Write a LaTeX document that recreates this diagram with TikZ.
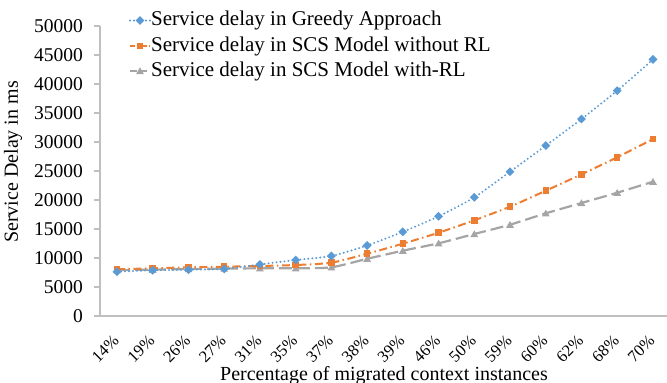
\documentclass[tikz,border=0pt]{standalone}
\usepackage{fontspec}
\setmainfont{Liberation Serif}
\usetikzlibrary{shapes.geometric}
\definecolor{sblue}{HTML}{5B9BD5}
\definecolor{sorange}{HTML}{ED7D31}
\definecolor{sgray}{HTML}{A5A5A5}
\definecolor{axisgray}{HTML}{BFBFBF}
\tikzset{
  axisline/.style={draw=axisgray, line width=1.4pt},
  ticklab/.style={font=\fontsize{19.5}{20}\selectfont, anchor=east, inner sep=0pt},
  xlab/.style={font=\fontsize{16.5}{17}\selectfont, anchor=north east, rotate=45, inner sep=0pt},
  titlelab/.style={font=\fontsize{20}{22}\selectfont, inner sep=0pt},
  leglab/.style={font=\fontsize{21}{23}\selectfont, anchor=west, inner sep=0pt},
  blueline/.style={draw=sblue, line width=2.2pt, line cap=round, dash pattern=on 0pt off 4pt},
  orangeline/.style={draw=sorange, line width=2pt, dash pattern=on 8pt off 3.5pt on 1.5pt off 3.5pt},
  grayline/.style={draw=sgray, line width=2.2pt, dash pattern=on 13pt off 5pt},
  bluemark/.style={diamond, fill=sblue, minimum width=9pt, minimum height=9pt, inner sep=0pt},
  orangemark/.style={rectangle, fill=sorange, minimum size=6.5pt, inner sep=0pt},
  graymark/.style={regular polygon, regular polygon sides=3, fill=sgray, minimum size=9pt, inner sep=0pt},
}
\begin{document}
\begin{tikzpicture}[x=1pt, y=-1pt]
\useasboundingbox (0,0) rectangle (667,383);
% axes
\coordinate (ytop) at (100,26);
\coordinate (origin) at (100,316);
\coordinate (xend) at (667,316);
\draw[axisline] (ytop) -- (origin);
\draw[axisline] (94,316) -- (xend);
% y ticks
\foreach \v [count=\k from 0] in {0,5000,10000,15000,20000,25000,30000,35000,40000,45000,50000}{
  \pgfmathsetmacro{\yy}{316-29*\k}
  \draw[axisline] (94,\yy) -- (100,\yy);
  \node[ticklab] (yt\k) at (83,\yy) {\v};
}
% x labels
\foreach \l [count=\k from 0] in {14\%,19\%,26\%,27\%,31\%,35\%,37\%,38\%,39\%,46\%,50\%,59\%,60\%,62\%,68\%,70\%}{
  \pgfmathsetmacro{\xx}{117+35.73*\k}
  \node[xlab] (xt\k) at (\xx-5,334) {\l};
}
% titles
\node[titlelab, rotate=90] (ytitle) at (13,162) {Service Delay in ms};
\node[titlelab, anchor=base] (xtitle) at (384,380) {Percentage of migrated context instances};
% series
\draw[grayline] plot[smooth, tension=0.4] coordinates {(117,270.0) (152.7,269.7) (188.5,269.0) (224.2,268.6) (259.9,268.3) (295.7,268.3) (331.4,267.3) (367.1,258.8) (402.8,250.7) (438.6,243.3) (474.3,234.0) (510.0,224.7) (545.8,213.3) (581.5,203.0) (617.2,192.7) (653.0,181.7)};
\draw[orangeline] plot[smooth, tension=0.4] coordinates {(117,269.3) (152.7,268.3) (188.5,267.3) (224.2,266.7) (259.9,266.0) (295.7,265.0) (331.4,262.7) (367.1,253.7) (402.8,243.7) (438.6,232.7) (474.3,220.3) (510.0,206.7) (545.8,190.7) (581.5,174.3) (617.2,157.3) (653.0,139.0)};
\draw[blueline] plot[smooth, tension=0.4] coordinates {(117,271.7) (152.7,270.3) (188.5,269.7) (224.2,269.0) (259.9,264.4) (295.7,260.0) (331.4,256.0) (367.1,245.5) (402.8,231.8) (438.6,216.3) (474.3,197.3) (510.0,171.7) (545.8,145.6) (581.5,119.0) (617.2,90.7) (653.0,59.4)};
% markers
\foreach \x/\y [count=\k] in {117/270.0,152.7/269.7,188.5/269.0,224.2/268.6,259.9/268.3,295.7/268.3,331.4/267.3,367.1/258.8,402.8/250.7,438.6/243.3,474.3/234.0,510.0/224.7,545.8/213.3,581.5/203.0,617.2/192.7,653.0/181.7}
  \node[graymark] (g\k) at (\x,\y+0.8) {};
\foreach \x/\y [count=\k] in {117/269.3,152.7/268.3,188.5/267.3,224.2/266.7,259.9/266.0,295.7/265.0,331.4/262.7,367.1/253.7,402.8/243.7,438.6/232.7,474.3/220.3,510.0/206.7,545.8/190.7,581.5/174.3,617.2/157.3,653.0/139.0}
  \node[orangemark] (o\k) at (\x,\y) {};
\foreach \x/\y [count=\k] in {117/271.7,152.7/270.3,188.5/269.7,224.2/269.0,259.9/264.4,295.7/260.0,331.4/256.0,367.1/245.5,402.8/231.8,438.6/216.3,474.3/197.3,510.0/171.7,545.8/145.6,581.5/119.0,617.2/90.7,653.0/59.4}
  \node[bluemark] (b\k) at (\x,\y) {};
% legend
\coordinate (l1a) at (130,20.5); \coordinate (l1b) at (150,20.5);
\coordinate (l2a) at (130,46); \coordinate (l2b) at (150,46);
\coordinate (l3a) at (130,71); \coordinate (l3b) at (150,71);
\draw[blueline] (l1a) -- (l1b);
\node[bluemark] (lm1) at (140,20.5) {};
\draw[orangeline, dash pattern=on 5pt off 2.5pt on 1.5pt off 2.5pt] (l2a) -- (l2b);
\node[orangemark] (lm2) at (140,46) {};
\draw[grayline, dash pattern=on 7pt off 3pt] (l3a) -- (l3b);
\node[graymark] (lm3) at (140,71.8) {};
\node[leglab] (leg1) at (151,20.5) {Service delay in Greedy Approach};
\node[leglab] (leg2) at (151,46) {Service delay in SCS Model without RL};
\node[leglab] (leg3) at (151,71) {Service delay in SCS Model with-RL};
\end{tikzpicture}
\end{document}
